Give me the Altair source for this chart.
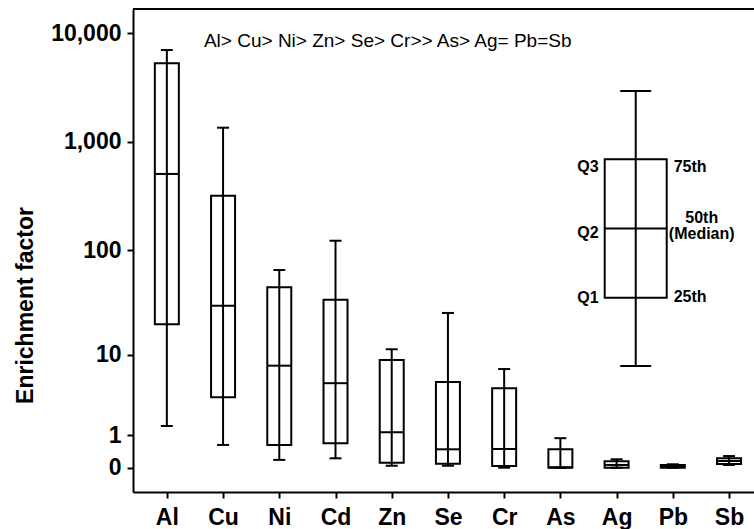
import altair as alt
import pandas as pd

categories = ["Al", "Cu", "Ni", "Cd", "Zn", "Se", "Cr", "As", "Ag", "Pb", "Sb"]
whisker_high = [7014, 1351, 65.1, 122, 11.3, 25.6, 7.1, 0.87, 0.195, 0.075, 0.28]
q3 = [5294, 319, 44.8, 34.2, 8.8, 5.15, 4.38, 0.477, 0.145, 0.06, 0.22]
median = [506, 30.0, 7.7, 5.0, 1.12, 0.477, 0.486, 0.01, 0.06, 0.02, 0.152]
q1 = [19.9, 3.45, 0.62, 0.68, 0.112, 0.088, 0.037, 0.0, 0.0, 0.0, 0.082]
whisker_low = [1.42, 0.62, 0.18, 0.22, 0.043, 0.043, 0.0, 0.0, 0.0, 0.0, 0.059]

# explanatory inset box (values in the same units as the axis)
inset_x = 8.34
inset_stats = [7.64, 35.8, 158.8, 691, 2937]  # low whisker, Q1, median, Q3, high whisker

ranking_text = "Al> Cu> Ni> Zn> Se> Cr>> As> Ag= Pb=Sb"
ranking_pos = (0.66, 8500)

y_ticks = [0, 1, 10, 100, 1000, 10000]
y_domain = [-0.674, 16744]
x_domain = [-0.513, 10.355]

FONT = "Liberation Sans"

df = pd.DataFrame({
    "idx": list(range(len(categories))),
    "name": categories,
    "hi": whisker_high,
    "q3": q3,
    "med": median,
    "q1": q1,
    "lo": whisker_low,
})
inset = pd.DataFrame({
    "idx": [inset_x],
    "lo": [inset_stats[0]], "q1": [inset_stats[1]], "med": [inset_stats[2]],
    "q3": [inset_stats[3]], "hi": [inset_stats[4]],
})

label_expr = "[" + ",".join("'" + c + "'" for c in categories) + "][datum.value]"

xs = alt.Scale(domain=x_domain, nice=False, zero=False)
ys = alt.Scale(type="symlog", constant=1, domain=y_domain, nice=False, zero=False)

x_enc = alt.X("idx:Q", scale=xs, axis=alt.Axis(
    values=list(range(len(categories))), labelExpr=label_expr, title=None, grid=False,
    tickSize=6, tickWidth=2, domainWidth=2, domainColor="black", tickColor="black",
    labelFont=FONT, labelFontSize=23, labelFontWeight="bold", labelColor="black",
    labelPadding=8, labelFlush=False))
y_axis = alt.Axis(
    values=y_ticks, format=",.0f", title="Enrichment factor", grid=False,
    tickSize=6, tickWidth=2, domainWidth=2, domainColor="black", tickColor="black",
    labelFont=FONT, labelFontSize=23, labelFontWeight="bold", labelColor="black",
    labelPadding=6, labelFlush=False,
    titleFont=FONT, titleFontSize=23, titleFontWeight="bold", titleColor="black",
    titleAngle=270, titleAlign="center", titleBaseline="alphabetic",
    titleX=-101, titleY=296)


def boxes(data, width, cap):
    base = alt.Chart(data)
    box = base.mark_bar(size=width, fill="white", stroke="black", strokeWidth=2, opacity=1).encode(
        x=x_enc, y=alt.Y("q1:Q", scale=ys, axis=y_axis), y2="q3:Q")
    whisk = base.mark_rule(color="black", strokeWidth=2, opacity=1).encode(
        x="idx:Q", y=alt.Y("lo:Q", scale=ys), y2="hi:Q")
    med = base.mark_tick(orient="horizontal", size=width, thickness=2, color="black", opacity=1).encode(
        x="idx:Q", y=alt.Y("med:Q", scale=ys))
    cap_hi = base.mark_tick(orient="horizontal", size=cap, thickness=2, color="black", opacity=1).encode(
        x="idx:Q", y=alt.Y("hi:Q", scale=ys))
    cap_lo = base.mark_tick(orient="horizontal", size=cap, thickness=2, color="black", opacity=1).encode(
        x="idx:Q", y=alt.Y("lo:Q", scale=ys))
    return [box, whisk, med, cap_hi, cap_lo]


main_layers = boxes(df, 24, 12)
inset_layers = boxes(inset, 62, 31)

left_labels = pd.DataFrame({
    "idx": [inset_x] * 3,
    "v": [inset_stats[3], inset_stats[2], inset_stats[1]],
    "t": ["Q3", "Q2", "Q1"],
    "dy": [13, 9.5, 5.5],
})
right_labels = pd.DataFrame({
    "idx": [inset_x] * 2,
    "v": [inset_stats[3], inset_stats[1]],
    "t": ["75th", "25th"],
    "dy": [13, 4],
})

txt_style = dict(font=FONT, fontSize=16, fontWeight="bold", color="black", baseline="alphabetic")

ql = [alt.Chart(left_labels[left_labels.t == t]).mark_text(align="right", dx=-37, dy=d, **txt_style)
      .encode(x="idx:Q", y=alt.Y("v:Q", scale=ys), text="t:N")
      for t, d in zip(left_labels.t, left_labels.dy)]
qr = [alt.Chart(right_labels[right_labels.t == t]).mark_text(align="left", dx=38, dy=d, **txt_style)
      .encode(x="idx:Q", y=alt.Y("v:Q", scale=ys), text="t:N")
      for t, d in zip(right_labels.t, right_labels.dy)]
med_lab = pd.DataFrame({"idx": [inset_x], "v": [inset_stats[2]], "t": ["50th"]})
med1 = alt.Chart(med_lab).mark_text(align="center", dx=66, dy=-5, **txt_style).encode(
    x="idx:Q", y=alt.Y("v:Q", scale=ys), text="t:N")
med2 = alt.Chart(med_lab).mark_text(align="center", dx=66, dy=11, **txt_style).encode(
    x="idx:Q", y=alt.Y("v:Q", scale=ys), text=alt.value("(Median)"))

rank = alt.Chart(pd.DataFrame({"x": [ranking_pos[0]], "y": [ranking_pos[1]], "t": [ranking_text]})).mark_text(
    align="left", baseline="middle", font=FONT, fontSize=19, color="black").encode(
    x=alt.X("x:Q", scale=xs), y=alt.Y("y:Q", scale=ys), text="t:N")

top_line = alt.Chart(pd.DataFrame({"y": [y_domain[1]]})).mark_rule(color="black", strokeWidth=2).encode(
    y=alt.Y("y:Q", scale=ys))

chart = alt.layer(
    *main_layers, *inset_layers, *ql, *qr, med1, med2, rank, top_line
).properties(
    width=621, height=483,
    autosize=alt.AutoSizeParams(type="none"),
    padding={"left": 133, "top": 9, "right": 0, "bottom": 37},
    background="white",
).configure_view(strokeWidth=0)

chart.save("out.html", embed_options={"renderer": "svg", "actions": False})
